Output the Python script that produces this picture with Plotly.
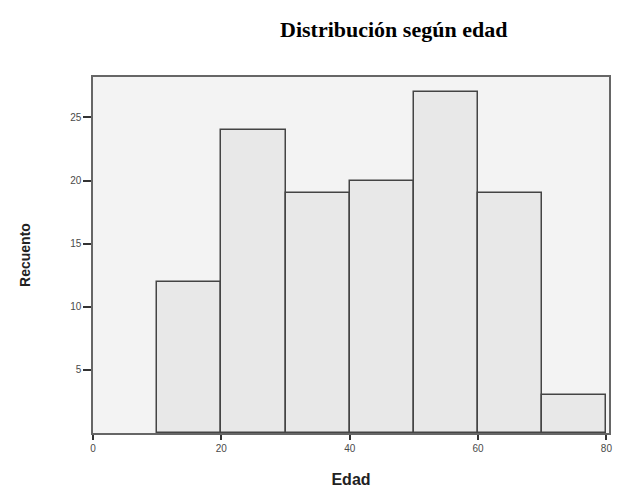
import plotly.graph_objects as go

bin_edges = [10, 20, 30, 40, 50, 60, 70, 80]
counts = [12, 24, 19, 20, 27, 19, 3]
x_ticks = [0, 20, 40, 60, 80]
y_ticks = [5, 10, 15, 20, 25]

centers = [(a + b) / 2 for a, b in zip(bin_edges[:-1], bin_edges[1:])]
widths = [b - a for a, b in zip(bin_edges[:-1], bin_edges[1:])]

fig = go.Figure(data=[
    go.Bar(x=centers,
           y=counts,
           width=widths,
           marker=dict(color='#e8e8e8',
                       line=dict(color='#444444', width=1.5)),
           showlegend=False)
])

axis_font = dict(family='Liberation Sans, Arial', size=10, color='#4a4a4a')

fig.update_xaxes(range=[0, 80.4],
                 tickvals=x_ticks,
                 ticks='outside', ticklen=5, tickwidth=2, tickcolor='#333333',
                 showline=True, linecolor='#666666', linewidth=1.5, mirror=True,
                 showgrid=False, zeroline=False, automargin=False,
                 tickfont=axis_font,
                 title=dict(text='<b>Edad</b>', standoff=22,
                            font=dict(family='Liberation Sans, Arial', size=16, color='#222222')))
fig.update_yaxes(range=[0, 28.2],
                 tickvals=y_ticks,
                 ticks='outside', ticklen=8, tickwidth=2, tickcolor='#333333',
                 showline=True, linecolor='#666666', linewidth=1.5, mirror=True,
                 showgrid=False, zeroline=False, automargin=False,
                 tickfont=axis_font,
                 title=dict(text='<b>Recuento</b>', standoff=36,
                            font=dict(family='Liberation Sans, Arial', size=14, color='#222222')))

fig.update_layout(
    width=619, height=488,
    margin=dict(l=93, r=10, t=77, b=55),
    plot_bgcolor='#f3f3f3',
    paper_bgcolor='white',
    bargap=0,
    annotations=[dict(text='<b>Distribución según edad</b>',
                      xref='paper', yref='paper', x=0.582, y=1.0, yshift=48,
                      xanchor='center', yanchor='middle', showarrow=False,
                      font=dict(family='Liberation Serif, Times New Roman', size=22, color='black'))]
)

# drop the default page margin so the figure fills the window
fig.write_html("out.html", config={'displayModeBar': False},
               post_script="document.body.style.margin='0';")
